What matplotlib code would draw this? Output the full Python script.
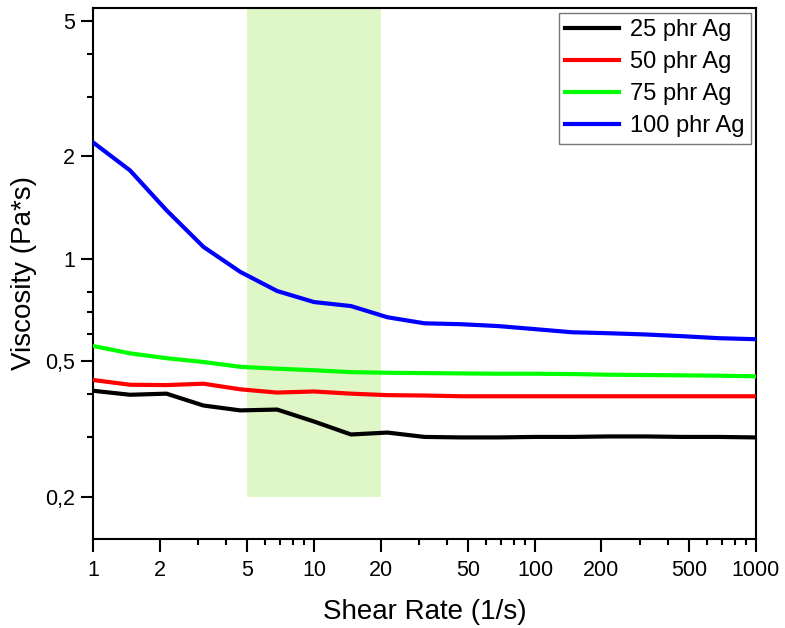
import matplotlib
matplotlib.use("Agg")
import matplotlib.pyplot as plt
from matplotlib.ticker import FixedLocator, NullFormatter

plt.rcParams['font.family'] = ['Liberation Sans', 'DejaVu Sans']

# Shear rate sweep (1/s), five points per decade
shear_rate = [1, 1.47, 2.15, 3.16, 4.64, 6.81, 10, 14.7, 21.5, 31.6, 46.4,
              68.1, 100, 147, 215, 316, 464, 681, 1000]

visc_25 = [0.410, 0.399, 0.402, 0.371, 0.359, 0.361, 0.333, 0.305, 0.309, 0.300,
           0.299, 0.299, 0.300, 0.300, 0.301, 0.301, 0.300, 0.300, 0.299]
visc_50 = [0.441, 0.427, 0.426, 0.430, 0.414, 0.405, 0.408, 0.402, 0.398, 0.397,
           0.395, 0.395, 0.395, 0.395, 0.395, 0.395, 0.395, 0.395, 0.395]
visc_75 = [0.555, 0.528, 0.511, 0.498, 0.482, 0.476, 0.471, 0.465, 0.463, 0.462,
           0.461, 0.460, 0.460, 0.459, 0.457, 0.456, 0.455, 0.454, 0.452]
visc_100 = [2.20, 1.82, 1.39, 1.085, 0.916, 0.805, 0.747, 0.727, 0.674, 0.647,
            0.643, 0.635, 0.622, 0.609, 0.605, 0.600, 0.593, 0.585, 0.581]

series_labels = ['25 phr Ag', '50 phr Ag', '75 phr Ag', '100 phr Ag']
series_colors = ['#000000', '#ff0000', '#00ff00', '#0000ff']

# Highlighted shear-rate window
shade_x = [5, 20]
shade_y_low = 0.2

x_ticks = [1, 2, 5, 10, 20, 50, 100, 200, 500, 1000]
x_tick_labels = ['1', '2', '5', '10', '20', '50', '100', '200', '500', '1000']
y_ticks = [0.2, 0.5, 1, 2, 5]
y_tick_labels = ['0,2', '0,5', '1', '2', '5']

ylim = (0.1504, 5.46)

fig = plt.figure(figsize=(7.85, 6.28), dpi=100)
ax = fig.add_axes([0.1185, 0.1417, 0.8445, 0.8456])

ax.set_xscale('log')
ax.set_yscale('log')
ax.set_xlim(1, 1000)
ax.set_ylim(*ylim)

ax.fill_between(shade_x, shade_y_low, ylim[1], color='#dff6c6', linewidth=0, zorder=1)

for vals, lab, col in zip([visc_25, visc_50, visc_75, visc_100], series_labels, series_colors):
    ax.plot(shear_rate, vals, color=col, lw=3.0, label=lab, zorder=3)

# Labelled ticks; unlabelled integer minors in between
minor_x = [m * d for d in (1, 10, 100) for m in range(2, 10)]
ax.set_xticks(x_ticks)
ax.set_xticklabels(x_tick_labels)
ax.xaxis.set_minor_locator(FixedLocator([v for v in minor_x if v not in x_ticks]))
ax.xaxis.set_minor_formatter(NullFormatter())

ax.set_yticks(y_ticks)
ax.set_yticklabels(y_tick_labels)
ax.yaxis.set_minor_locator(FixedLocator([0.3, 0.4, 0.6, 0.7, 0.8, 3, 4]))
ax.yaxis.set_minor_formatter(NullFormatter())

ax.tick_params(axis='both', which='major', direction='out', length=9, width=1.5,
               labelsize=15.5, colors='black')
ax.tick_params(axis='both', which='minor', direction='out', length=4.5, width=1.5)
ax.tick_params(axis='x', pad=6)
ax.tick_params(axis='y', pad=4)
ax.tick_params(top=False, right=False, which='both')

for sp in ax.spines.values():
    sp.set_linewidth(1.5)
    sp.set_color('black')

ax.set_xlabel('Shear Rate (1/s)', fontsize=20, labelpad=13)
ax.set_ylabel('Viscosity (Pa*s)', fontsize=20, labelpad=6)

leg = ax.legend(loc='upper right', fontsize=17, frameon=True, fancybox=False,
                edgecolor='#555555', handlelength=2.3, handletextpad=0.45,
                labelspacing=0.42, borderpad=0.28, borderaxespad=0.2)
leg.get_frame().set_linewidth(1.0)

fig.savefig('out.png', dpi=100)
